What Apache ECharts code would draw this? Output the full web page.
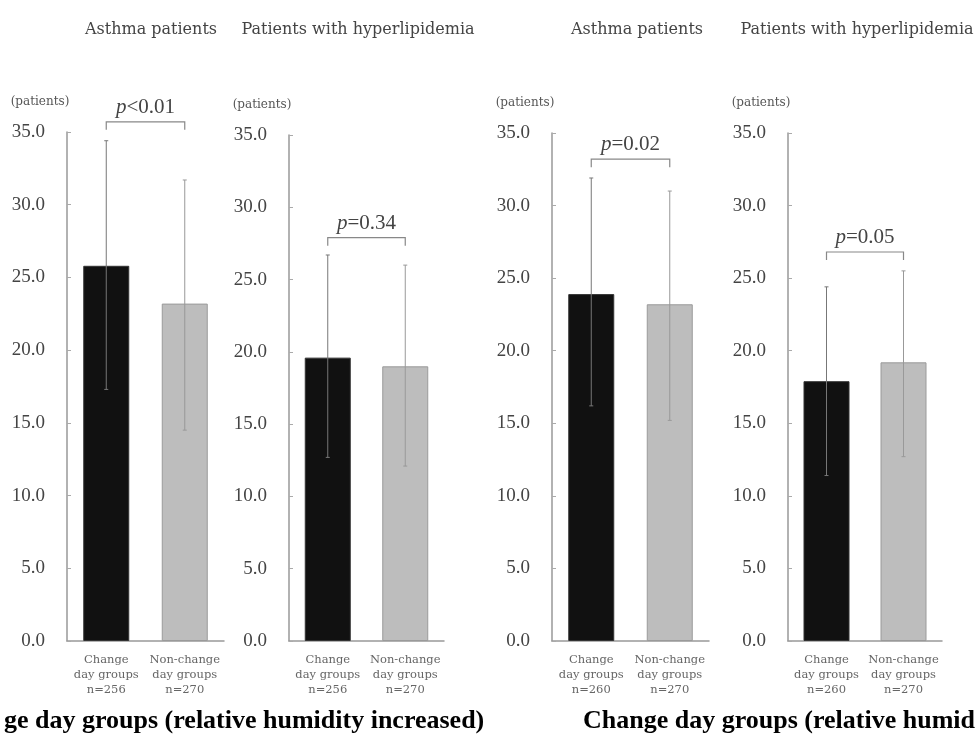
<!DOCTYPE html>
<html>
<head>
<meta charset="utf-8">
<script src="https://cdn.jsdelivr.net/npm/echarts@6/dist/echarts.min.js"></script>
<style>html,body{margin:0;padding:0;background:#fff;}#c{width:977px;height:740px;}</style>
</head>
<body>
<div id="c"></div>
<script>
// ---- data ----
const panelTitles = ['Asthma patients', 'Patients with hyperlipidemia', 'Asthma patients', 'Patients with hyperlipidemia'];
const catsIncreased = ['Change\nday groups\nn=256', 'Non-change\nday groups\nn=270'];
const catsDecreased = ['Change\nday groups\nn=260', 'Non-change\nday groups\nn=270'];
const yTicks = [0, 5, 10, 15, 20, 25, 30, 35];

const means1 = [25.8, 23.2], low1 = [17.3, 14.5], high1 = [34.4, 31.7];
const means2 = [19.6, 19.0], low2 = [12.7, 12.1], high2 = [26.7, 26.0];
const means3 = [23.9, 23.2], low3 = [16.2, 15.2], high3 = [31.9, 31.0];
const means4 = [17.9, 19.2], low4 = [11.4, 12.7], high4 = [24.4, 25.5];

const bracketLevels = [35.7, 27.9, 33.2, 26.8];
const pSigns = ['<', '=', '=', '='];
const pValues = ['0.01', '0.34', '0.02', '0.05'];

const captions = ['ge day groups (relative humidity increased)', 'Change day groups (relative humid'];

// ---- layout ----
const serif = '"Liberation Serif", "DejaVu Serif", serif';
const wideSerif = '"DejaVu Serif", "Liberation Serif", serif';
const grids = [
  {left: 67, width: 157, top: 132, height: 509},
  {left: 289, width: 155, top: 135, height: 506},
  {left: 552, width: 157, top: 133, height: 508},
  {left: 788, width: 154, top: 133, height: 508}
];
const titleCenters = [146, 353, 632, 852];

const panels = [
  {cats: catsIncreased, means: means1, low: low1, high: high1},
  {cats: catsIncreased, means: means2, low: low2, high: high2},
  {cats: catsDecreased, means: means3, low: low3, high: high3},
  {cats: catsDecreased, means: means4, low: low4, high: high4}
];

const option = {
  backgroundColor: '#fff',
  animation: false,
  title: [],
  grid: grids,
  xAxis: [],
  yAxis: [],
  series: []
};

panelTitles.forEach((t, i) => {
  option.title.push({
    text: t, left: titleCenters[i], top: 17, textAlign: 'center',
    textStyle: {fontFamily: wideSerif, fontSize: 16, fontWeight: 'normal', color: '#444'}
  });
});
option.title.push({
  text: captions[0], left: -1, top: 703,
  textStyle: {fontFamily: serif, fontSize: 26, fontWeight: 'bold', color: '#000'}
});
option.title.push({
  text: captions[1], left: 578, top: 703,
  textStyle: {fontFamily: serif, fontSize: 26, fontWeight: 'bold', color: '#000'}
});

panels.forEach((p, i) => {
  option.xAxis.push({
    type: 'category', gridIndex: i, data: p.cats,
    axisLine: {lineStyle: {color: '#999', width: 1.5}},
    axisTick: {show: false},
    axisLabel: {fontFamily: wideSerif, fontSize: 11.5, color: '#666', lineHeight: 15, margin: 12, interval: 0}
  });
  option.yAxis.push({
    type: 'value', gridIndex: i, min: yTicks[0], max: yTicks[yTicks.length - 1], interval: 5,
    name: '(patients)', nameLocation: 'end', nameGap: 24,
    nameTextStyle: {fontFamily: wideSerif, fontSize: 12, color: '#555', padding: [0, 54, 0, 0]},
    axisLine: {show: true, lineStyle: {color: '#999', width: 1.5}},
    axisTick: {show: true, inside: true, length: 4, lineStyle: {color: '#aaa'}},
    splitLine: {show: false},
    axisLabel: {fontFamily: serif, fontSize: 19, color: '#444', margin: 22, formatter: v => v.toFixed(1)}
  });
  option.series.push({
    type: 'bar', xAxisIndex: i, yAxisIndex: i, barWidth: 46,
    data: p.means.map((v, k) => ({
      value: v,
      itemStyle: k === 0 ? {color: '#111', borderColor: '#333', borderWidth: 1}
                         : {color: '#bdbdbd', borderColor: '#9a9a9a', borderWidth: 1}
    }))
  });
  option.series.push({
    type: 'custom', xAxisIndex: i, yAxisIndex: i, z: 5,
    data: p.means.map((v, k) => [k, p.low[k], p.high[k]]),
    renderItem: (params, api) => {
      const top = api.coord([api.value(0), api.value(2)]);
      const bot = api.coord([api.value(0), api.value(1)]);
      const c = api.value(0) === 0 ? '#777' : '#999';
      return {
        type: 'group',
        children: [
          {type: 'line', shape: {x1: top[0], y1: top[1], x2: bot[0], y2: bot[1]}, style: {stroke: c, lineWidth: 1}},
          {type: 'line', shape: {x1: top[0] - 2, y1: top[1], x2: top[0] + 2, y2: top[1]}, style: {stroke: c, lineWidth: 1}},
          {type: 'line', shape: {x1: bot[0] - 2, y1: bot[1], x2: bot[0] + 2, y2: bot[1]}, style: {stroke: c, lineWidth: 1}}
        ]
      };
    }
  });
  option.series.push({
    type: 'custom', xAxisIndex: i, yAxisIndex: i, z: 6, clip: false,
    data: [[0, 1, bracketLevels[i]]],
    renderItem: (params, api) => {
      const a = api.coord([api.value(0), api.value(2)]);
      const b = api.coord([api.value(1), api.value(2)]);
      return {
        type: 'group',
        children: [
          {type: 'polyline', shape: {points: [[a[0], a[1] + 8], [a[0], a[1]], [b[0], b[1]], [b[0], b[1] + 8]]},
           style: {stroke: '#888', lineWidth: 1.2, fill: null}},
          {type: 'text', x: (a[0] + b[0]) / 2, y: a[1] - 4,
           style: {
             text: '{i|p}{n|' + pSigns[i] + pValues[i] + '}',
             textAlign: 'center', textVerticalAlign: 'bottom',
             rich: {
               i: {fontFamily: serif, fontStyle: 'italic', fontSize: 21, fill: '#444'},
               n: {fontFamily: serif, fontSize: 21, fill: '#444'}
             }
           }}
        ]
      };
    }
  });
});

const chart = echarts.init(document.getElementById('c'), null, {renderer: 'canvas'});
chart.setOption(option);
</script>
</body>
</html>
